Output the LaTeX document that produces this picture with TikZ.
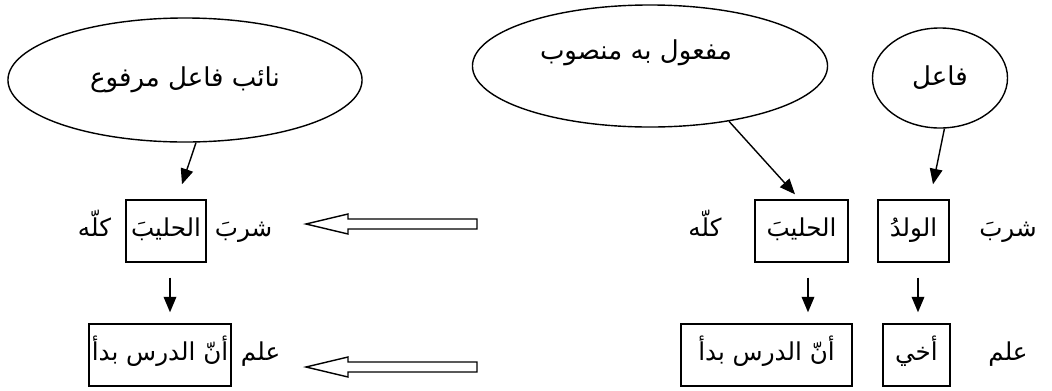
\documentclass[tikz,border=0pt]{standalone}
\usepackage{fontspec}
\newfontfamily\arabicfont[Script=Arabic]{DejaVu Sans}
\TeXXeTstate=1
\usetikzlibrary{shapes.geometric,arrows.meta,calc}

\tikzset{
  every node/.style={font=\arabicfont\fontsize{17.5}{21}\selectfont},
  oval/.style={draw, ellipse, line width=1pt, inner sep=0pt},
  word/.style={inner sep=0pt, text height=14pt, text depth=6pt},
  wordbox/.style={word, draw, line width=1pt, inner sep=2pt, minimum height=1.55cm},
  pointer/.style={-{Triangle[length=11pt,width=9pt]}, line width=1pt},
  hollow/.style={draw, line width=1pt, fill=white}
}
\newcommand{\ar}[1]{\beginR #1\endR}

\begin{document}
\begin{tikzpicture}[x=0.025cm,y=-0.025cm]
\useasboundingbox (0,0) rectangle (1052,390);

% ================= ELLIPSES =================
\node[oval, minimum width=8.85cm, minimum height=3.1cm] (naib) at (185,80)
  {\fontsize{18.5}{22}\selectfont\ar{نائب فاعل مرفوع}};
\node[oval, minimum width=8.875cm, minimum height=3.05cm] (mafool) at (650,66) {};
\node (mafooltxt) at (636,53) {\fontsize{18.5}{22}\selectfont\ar{مفعول به منصوب}};
\node[oval, minimum width=3.375cm, minimum height=2.5cm] (fail) at (940,78)
  {\fontsize{18.5}{22}\selectfont\ar{فاعل}};

% ================= RIGHT: ACTIVE SENTENCES =================
\node[word] (shariba) at (1008,231) {\ar{شربَ}};
\node[wordbox, minimum width=1.775cm] (walad) at (913.5,231) {\ar{الولدُ}};
\node[wordbox, minimum width=2.325cm] (halib) at (801.5,231) {\ar{الحليبَ}};
\node[word] (kullah) at (705,231) {\ar{كلّه}};

\node[word] (alima) at (1008,355) {\ar{علم}};
\node[wordbox, minimum width=1.675cm] (akhi) at (916.5,355) {\ar{أخي}};
\node[wordbox, minimum width=4.275cm] (anna) at (766.5,355) {\ar{أنّ الدرس بدأ}};

% ================= LEFT: PASSIVE SENTENCES =================
\node[wordbox, minimum width=2cm] (halibp) at (166,231) {\ar{الحليبَ}};
\node[word, anchor=west] (shuriba) at ($(halibp.east)+(8,0)$) {\ar{شربَ}};
\node[word, anchor=east] (kullahp) at ($(halibp.west)+(-14,0)$) {\ar{كلّه}};

\node[wordbox, minimum width=3.325cm] (annap) at (160,355) {\ar{أنّ الدرس بدأ}};
\node[word, anchor=west] (ulima) at ($(annap.east)+(9,0)$) {\ar{علم}};

% Pointers from the ellipses
\draw[pointer] (naib.-80) -- ($(halibp.north)+(16,-15)$);
\draw[pointer] (mafool.-35) -- ($(halib.north)+(-6.5,-5)$);
\draw[pointer] (fail.-85) -- ($(walad.north)+(19.5,-15)$);

% Down pointers
\coordinate (dl) at ($(halibp.south)+(4,0)$);
\coordinate (dm) at ($(halib.south)+(6.5,0)$);
\coordinate (dr) at ($(walad.south)+(4.5,0)$);
\draw[pointer, shorten <=0.375cm, shorten >=0.275cm] (dl) -- (dl |- annap.north);
\draw[pointer, shorten <=0.375cm, shorten >=0.275cm] (dm) -- (dm |- anna.north);
\draw[pointer, shorten <=0.375cm, shorten >=0.275cm] (dr) -- (dr |- akhi.north);

% Hollow transform arrows
\foreach \y in {224,367}
  \draw[hollow] (306,\y) -- (348,\y-10) -- (348,\y-5) -- (477,\y-5)
    -- (477,\y+5) -- (348,\y+5) -- (348,\y+10) -- cycle;

\end{tikzpicture}
\end{document}
